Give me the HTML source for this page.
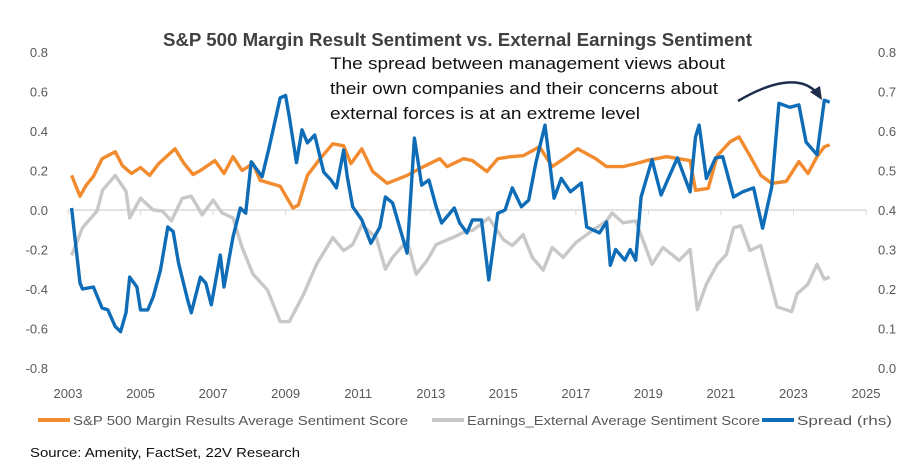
<!DOCTYPE html>
<html><head><meta charset="utf-8">
<style>
body{margin:0;background:#fff;font-family:"Liberation Sans",sans-serif;}
svg text{font-family:"Liberation Sans",sans-serif;}
</style></head>
<body>
<svg id="chart" width="921" height="466" viewBox="0 0 921 466" xmlns="http://www.w3.org/2000/svg">
<rect width="921" height="466" fill="#fff"/>
<text x="163" y="46" textLength="589" lengthAdjust="spacingAndGlyphs" font-size="18" font-weight="bold" fill="#404040">S&amp;P 500 Margin Result Sentiment vs. External Earnings Sentiment</text>
<g id="axes"></g>
<g id="series"></g>
<g font-size="17" fill="#111">
<text x="330" y="69" textLength="395" lengthAdjust="spacingAndGlyphs">The spread between management views about</text>
<text x="330" y="94" textLength="388" lengthAdjust="spacingAndGlyphs">their own companies and their concerns about</text>
<text x="330" y="119" textLength="310" lengthAdjust="spacingAndGlyphs">external forces is at an extreme level</text>
</g>
<path d="M738,101 C770,82 800,75 816,92" fill="none" stroke="#1f2d4d" stroke-width="2.5"/>
<polygon points="822,100 810,92 820,86" fill="#1f2d4d"/>
<g font-size="13" fill="#595959">
<line x1="38" y1="420" x2="70" y2="420" stroke="#f28a2e" stroke-width="4"/>
<text x="73" y="425" textLength="335" lengthAdjust="spacingAndGlyphs">S&amp;P 500 Margin Results Average Sentiment Score</text>
<line x1="432" y1="420" x2="464" y2="420" stroke="#c8c8c8" stroke-width="4"/>
<text x="467" y="425" textLength="293" lengthAdjust="spacingAndGlyphs">Earnings_External Average Sentiment Score</text>
<line x1="762" y1="420" x2="794" y2="420" stroke="#0f6db8" stroke-width="4"/>
<text x="797" y="425" textLength="95" lengthAdjust="spacingAndGlyphs">Spread (rhs)</text>
</g>
<text x="30" y="457" font-size="13" fill="#111" textLength="270" lengthAdjust="spacingAndGlyphs">Source: Amenity, FactSet, 22V Research</text>
</svg>
<script>
const yearTicks=[2003,2005,2007,2009,2011,2013,2015,2017,2019,2021,2023,2025];
const leftTicks=[0.8,0.6,0.4,0.2,0.0,-0.2,-0.4,-0.6,-0.8];
const rightTicks=[0.8,0.7,0.6,0.5,0.4,0.3,0.2,0.1,0.0];
const marginX=[2003.1,2003.33,2003.5,2003.7,2003.94,2004.3,2004.5,2004.75,2005,2005.25,2005.5,2005.95,2006.2,2006.45,2006.65,2007.05,2007.3,2007.55,2007.8,2008.1,2008.3,2008.85,2009.2,2009.35,2009.6,2009.95,2010.3,2010.6,2010.8,2011.1,2011.4,2011.8,2012.35,2012.8,2013.25,2013.45,2013.9,2014.15,2014.55,2014.85,2015.2,2015.55,2016,2016.35,2016.75,2017.05,2017.55,2017.85,2018.3,2018.65,2018.95,2019.5,2020.15,2020.3,2020.65,2020.9,2021.25,2021.5,2021.8,2022.1,2022.4,2022.8,2023.15,2023.4,2023.65,2023.85,2024.0];
const marginY=[0.175,0.07,0.125,0.17,0.26,0.295,0.225,0.185,0.215,0.175,0.235,0.31,0.235,0.18,0.2,0.25,0.185,0.27,0.2,0.235,0.15,0.12,0.01,0.025,0.175,0.26,0.335,0.325,0.235,0.31,0.195,0.135,0.175,0.22,0.26,0.22,0.26,0.25,0.195,0.26,0.27,0.275,0.32,0.22,0.27,0.31,0.26,0.22,0.22,0.235,0.25,0.27,0.25,0.1,0.11,0.275,0.345,0.37,0.275,0.175,0.135,0.145,0.245,0.185,0.27,0.32,0.33];
const extX=[2003.1,2003.4,2003.8,2003.95,2004.3,2004.6,2004.7,2005,2005.35,2005.6,2005.85,2006.15,2006.4,2006.7,2007,2007.25,2007.55,2007.8,2008.1,2008.5,2008.85,2009.1,2009.5,2009.85,2010.3,2010.6,2010.85,2011.1,2011.5,2011.75,2011.95,2012.35,2012.6,2012.9,2013.15,2013.6,2014,2014.15,2014.6,2015,2015.25,2015.55,2015.8,2016.1,2016.35,2016.65,2017,2017.45,2017.85,2018,2018.3,2018.65,2019.1,2019.4,2019.85,2020.15,2020.35,2020.6,2020.9,2021.15,2021.35,2021.55,2021.8,2022.1,2022.55,2022.95,2023.1,2023.4,2023.65,2023.85,2024];
const extY=[-0.23,-0.09,-0.005,0.1,0.175,0.095,-0.04,0.06,0,-0.005,-0.055,0.06,0.07,-0.025,0.05,-0.015,-0.04,-0.19,-0.325,-0.405,-0.565,-0.565,-0.425,-0.275,-0.14,-0.205,-0.175,-0.075,-0.14,-0.3,-0.24,-0.155,-0.325,-0.255,-0.175,-0.14,-0.105,-0.105,-0.04,-0.15,-0.18,-0.125,-0.24,-0.305,-0.19,-0.24,-0.165,-0.105,-0.055,-0.015,-0.065,-0.055,-0.275,-0.19,-0.255,-0.2,-0.505,-0.375,-0.275,-0.225,-0.09,-0.08,-0.205,-0.18,-0.49,-0.515,-0.425,-0.375,-0.275,-0.35,-0.34];
const spreadX=[2003.1,2003.33,2003.4,2003.7,2003.94,2004.1,2004.3,2004.45,2004.6,2004.7,2004.9,2005,2005.2,2005.35,2005.55,2005.75,2005.9,2006.05,2006.3,2006.4,2006.65,2006.8,2006.95,2007.2,2007.3,2007.55,2007.75,2007.9,2008.05,2008.35,2008.55,2008.85,2009,2009.1,2009.3,2009.45,2009.6,2009.8,2010.05,2010.25,2010.4,2010.6,2010.7,2010.85,2011.1,2011.35,2011.6,2011.75,2011.95,2012.35,2012.55,2012.75,2012.95,2013.15,2013.3,2013.65,2013.8,2014,2014.15,2014.4,2014.6,2014.85,2015.05,2015.25,2015.5,2015.7,2015.9,2016.15,2016.4,2016.6,2016.85,2017.15,2017.3,2017.65,2017.85,2017.95,2018.1,2018.35,2018.5,2018.65,2018.8,2019.1,2019.35,2019.55,2019.8,2020.15,2020.3,2020.4,2020.6,2020.85,2021.05,2021.35,2021.6,2021.9,2022.15,2022.4,2022.6,2022.9,2023.15,2023.35,2023.65,2023.85,2024];
const spreadY=[0.405,0.215,0.2,0.205,0.152,0.147,0.105,0.092,0.14,0.23,0.205,0.147,0.147,0.18,0.248,0.357,0.345,0.265,0.172,0.14,0.23,0.215,0.16,0.286,0.205,0.332,0.405,0.392,0.522,0.484,0.56,0.684,0.69,0.636,0.52,0.603,0.57,0.59,0.496,0.476,0.456,0.552,0.484,0.408,0.375,0.316,0.357,0.433,0.418,0.291,0.582,0.463,0.476,0.408,0.367,0.405,0.367,0.342,0.375,0.375,0.223,0.392,0.4,0.456,0.408,0.425,0.52,0.615,0.43,0.48,0.446,0.468,0.357,0.342,0.37,0.26,0.3,0.273,0.3,0.273,0.433,0.527,0.438,0.48,0.532,0.446,0.585,0.615,0.48,0.532,0.535,0.433,0.446,0.456,0.354,0.458,0.67,0.66,0.666,0.572,0.54,0.678,0.673];

const X0=68,X1=866,Y0=52,Y1=368;
const xs=y=>X0+(y-2003)/(2025-2003)*(X1-X0);
const yL=v=>Y1-(v+0.8)/1.6*(Y1-Y0);
const yR=v=>Y1-v/0.8*(Y1-Y0);
const NS='http://www.w3.org/2000/svg';
const axes=document.getElementById('axes');
const ser=document.getElementById('series');
function mk(tag,attrs,parent){const e=document.createElementNS(NS,tag);for(const k in attrs)e.setAttribute(k,attrs[k]);parent.appendChild(e);return e;}
const zero=mk('line',{x1:X0,x2:X1,y1:yL(0),y2:yL(0),stroke:'#d9d9d9','stroke-width':1.5},axes);


yearTicks.forEach(t=>{
  const tk=mk('line',{x1:xs(t),x2:xs(t),y1:yL(0),y2:yL(0)+5,stroke:'#d9d9d9'},axes);
  
  
  const tx=mk('text',{x:xs(t),y:398,'text-anchor':'middle','font-size':13,fill:'#595959'},axes);
  tx.textContent=t;
  
  
});
leftTicks.forEach(t=>{
  const tx=mk('text',{x:48,y:yL(t)+5,'text-anchor':'end','font-size':13,fill:'#595959'},axes);
  tx.textContent=t.toFixed(1);
  
  
});
rightTicks.forEach(t=>{
  const tx=mk('text',{x:878,y:yR(t)+5,'font-size':13,fill:'#595959'},axes);
  tx.textContent=t.toFixed(1);
  
  
});
function line(xa,ya,fy,color,name){
  const pts=xa.map((x,i)=>xs(x).toFixed(1)+','+fy(ya[i]).toFixed(1)).join(' ');
  const p=mk('polyline',{points:pts,fill:'none',stroke:color,'stroke-width':3.4,'stroke-linejoin':'round'},ser);
  
  
}
line(extX,extY,yL,'#c8c8c8','external-sentiment-line');
line(marginX,marginY,yL,'#f28a2e','margin-sentiment-line');
line(spreadX,spreadY,yR,'#0f6db8','spread-line');
</script>
</body></html>
